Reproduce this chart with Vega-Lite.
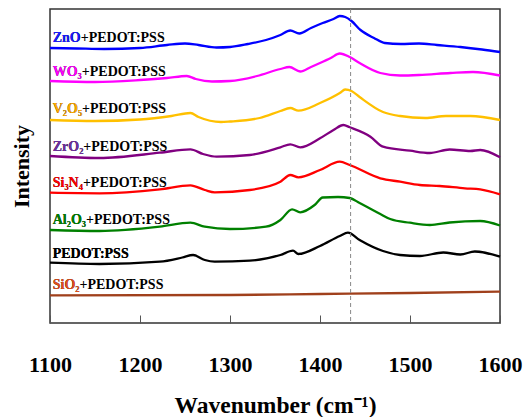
{
  "$schema": "https://vega.github.io/schema/vega-lite/v6.json",
  "width": 450,
  "height": 314,
  "autosize": {"type": "none"},
  "padding": {"left": 50, "top": 9, "right": 31, "bottom": 94},
  "background": "white",
  "config": {"view": {"stroke": "#333333", "strokeWidth": 1.5}, "font": "Liberation Serif", "text": {"font": "Liberation Serif"}},
  "datasets": {
    "spectra": [
      {"s":"ZnO","wn":1100,"v":275},{"s":"ZnO","wn":1130,"v":274.5},{"s":"ZnO","wn":1160,"v":274},{"s":"ZnO","wn":1200,"v":275},{"s":"ZnO","wn":1230,"v":278},{"s":"ZnO","wn":1250,"v":279.5},{"s":"ZnO","wn":1265,"v":278},{"s":"ZnO","wn":1285,"v":275.5},{"s":"ZnO","wn":1300,"v":276},{"s":"ZnO","wn":1320,"v":279},{"s":"ZnO","wn":1340,"v":283},{"s":"ZnO","wn":1356,"v":288},{"s":"ZnO","wn":1367,"v":292.5},{"s":"ZnO","wn":1377,"v":289.5},{"s":"ZnO","wn":1390,"v":295},{"s":"ZnO","wn":1403,"v":300},{"s":"ZnO","wn":1415,"v":304},{"s":"ZnO","wn":1422,"v":307},{"s":"ZnO","wn":1428,"v":306},{"s":"ZnO","wn":1435,"v":302},{"s":"ZnO","wn":1445,"v":293},{"s":"ZnO","wn":1460,"v":285},{"s":"ZnO","wn":1472,"v":280},{"s":"ZnO","wn":1490,"v":279},{"s":"ZnO","wn":1510,"v":279.5},{"s":"ZnO","wn":1530,"v":278},{"s":"ZnO","wn":1556,"v":276},{"s":"ZnO","wn":1580,"v":273.5},{"s":"ZnO","wn":1600,"v":271},
      {"s":"WO3","wn":1100,"v":242},{"s":"WO3","wn":1150,"v":241},{"s":"WO3","wn":1200,"v":243},{"s":"WO3","wn":1230,"v":245},{"s":"WO3","wn":1252,"v":247},{"s":"WO3","wn":1262,"v":244},{"s":"WO3","wn":1280,"v":241.5},{"s":"WO3","wn":1300,"v":242},{"s":"WO3","wn":1330,"v":247},{"s":"WO3","wn":1356,"v":254},{"s":"WO3","wn":1366,"v":256},{"s":"WO3","wn":1378,"v":251.5},{"s":"WO3","wn":1390,"v":256},{"s":"WO3","wn":1400,"v":260},{"s":"WO3","wn":1412,"v":265},{"s":"WO3","wn":1422,"v":269.5},{"s":"WO3","wn":1433,"v":266},{"s":"WO3","wn":1444,"v":260},{"s":"WO3","wn":1467,"v":250},{"s":"WO3","wn":1489,"v":247.5},{"s":"WO3","wn":1510,"v":248},{"s":"WO3","wn":1545,"v":250},{"s":"WO3","wn":1570,"v":251},{"s":"WO3","wn":1600,"v":247.5},
      {"s":"V2O5","wn":1100,"v":203},{"s":"V2O5","wn":1150,"v":202},{"s":"V2O5","wn":1200,"v":203.5},{"s":"V2O5","wn":1235,"v":207},{"s":"V2O5","wn":1256,"v":210},{"s":"V2O5","wn":1265,"v":206},{"s":"V2O5","wn":1290,"v":201},{"s":"V2O5","wn":1300,"v":201.5},{"s":"V2O5","wn":1333,"v":205},{"s":"V2O5","wn":1356,"v":212},{"s":"V2O5","wn":1367,"v":215},{"s":"V2O5","wn":1376,"v":212.3},{"s":"V2O5","wn":1400,"v":220},{"s":"V2O5","wn":1422,"v":230},{"s":"V2O5","wn":1428,"v":233.5},{"s":"V2O5","wn":1435,"v":232},{"s":"V2O5","wn":1444,"v":226},{"s":"V2O5","wn":1470,"v":211},{"s":"V2O5","wn":1489,"v":207},{"s":"V2O5","wn":1517,"v":205},{"s":"V2O5","wn":1540,"v":207},{"s":"V2O5","wn":1567,"v":207},{"s":"V2O5","wn":1600,"v":203},
      {"s":"ZrO2","wn":1100,"v":167},{"s":"ZrO2","wn":1155,"v":165},{"s":"ZrO2","wn":1222,"v":170.3},{"s":"ZrO2","wn":1256,"v":173.7},{"s":"ZrO2","wn":1270,"v":169},{"s":"ZrO2","wn":1285,"v":166.3},{"s":"ZrO2","wn":1322,"v":168},{"s":"ZrO2","wn":1356,"v":175.7},{"s":"ZrO2","wn":1367,"v":178.7},{"s":"ZrO2","wn":1378,"v":175.7},{"s":"ZrO2","wn":1400,"v":184.7},{"s":"ZrO2","wn":1415,"v":193},{"s":"ZrO2","wn":1426,"v":198},{"s":"ZrO2","wn":1433,"v":195.7},{"s":"ZrO2","wn":1456,"v":186.3},{"s":"ZrO2","wn":1470,"v":176.3},{"s":"ZrO2","wn":1500,"v":172.3},{"s":"ZrO2","wn":1522,"v":170},{"s":"ZrO2","wn":1544,"v":173.5},{"s":"ZrO2","wn":1567,"v":172},{"s":"ZrO2","wn":1578,"v":173},{"s":"ZrO2","wn":1600,"v":165.7},
      {"s":"Si3N4","wn":1100,"v":130.3},{"s":"Si3N4","wn":1155,"v":129.7},{"s":"Si3N4","wn":1222,"v":133.7},{"s":"Si3N4","wn":1256,"v":137.7},{"s":"Si3N4","wn":1272,"v":133},{"s":"Si3N4","wn":1283,"v":130.7},{"s":"Si3N4","wn":1322,"v":133},{"s":"Si3N4","wn":1356,"v":141.3},{"s":"Si3N4","wn":1367,"v":148},{"s":"Si3N4","wn":1376,"v":145.7},{"s":"Si3N4","wn":1400,"v":153},{"s":"Si3N4","wn":1422,"v":161.3},{"s":"Si3N4","wn":1433,"v":158},{"s":"Si3N4","wn":1467,"v":144.7},{"s":"Si3N4","wn":1489,"v":141.3},{"s":"Si3N4","wn":1511,"v":138},{"s":"Si3N4","wn":1533,"v":137},{"s":"Si3N4","wn":1561,"v":134.7},{"s":"Si3N4","wn":1578,"v":133.7},{"s":"Si3N4","wn":1600,"v":128.7},
      {"s":"Al2O3","wn":1100,"v":93},{"s":"Al2O3","wn":1155,"v":92},{"s":"Al2O3","wn":1222,"v":96.3},{"s":"Al2O3","wn":1256,"v":100.3},{"s":"Al2O3","wn":1272,"v":96.3},{"s":"Al2O3","wn":1300,"v":94},{"s":"Al2O3","wn":1340,"v":96.3},{"s":"Al2O3","wn":1356,"v":103},{"s":"Al2O3","wn":1369,"v":113.7},{"s":"Al2O3","wn":1378,"v":110.7},{"s":"Al2O3","wn":1394,"v":118},{"s":"Al2O3","wn":1403,"v":125.5},{"s":"Al2O3","wn":1420,"v":126},{"s":"Al2O3","wn":1433,"v":125},{"s":"Al2O3","wn":1444,"v":120},{"s":"Al2O3","wn":1467,"v":109},{"s":"Al2O3","wn":1478,"v":104},{"s":"Al2O3","wn":1500,"v":100.3},{"s":"Al2O3","wn":1522,"v":98},{"s":"Al2O3","wn":1544,"v":100.5},{"s":"Al2O3","wn":1578,"v":102},{"s":"Al2O3","wn":1600,"v":97.5},
      {"s":"PEDOT","wn":1100,"v":60.3},{"s":"PEDOT","wn":1155,"v":59},{"s":"PEDOT","wn":1222,"v":61.3},{"s":"PEDOT","wn":1247,"v":65.5},{"s":"PEDOT","wn":1259,"v":68},{"s":"PEDOT","wn":1272,"v":63},{"s":"PEDOT","wn":1283,"v":61.3},{"s":"PEDOT","wn":1322,"v":62.3},{"s":"PEDOT","wn":1356,"v":68},{"s":"PEDOT","wn":1370,"v":72.3},{"s":"PEDOT","wn":1376,"v":69},{"s":"PEDOT","wn":1400,"v":77},{"s":"PEDOT","wn":1422,"v":87},{"s":"PEDOT","wn":1431,"v":90.3},{"s":"PEDOT","wn":1444,"v":83},{"s":"PEDOT","wn":1470,"v":72},{"s":"PEDOT","wn":1489,"v":68},{"s":"PEDOT","wn":1511,"v":67},{"s":"PEDOT","wn":1537,"v":70.5},{"s":"PEDOT","wn":1556,"v":68.5},{"s":"PEDOT","wn":1572,"v":71.5},{"s":"PEDOT","wn":1600,"v":66.3},
      {"s":"SiO2","wn":1100,"v":27.7},{"s":"SiO2","wn":1300,"v":28},{"s":"SiO2","wn":1400,"v":29},{"s":"SiO2","wn":1500,"v":30},{"s":"SiO2","wn":1600,"v":31.3}
    ],
    "labels": [
      {"lab":"ZnO","full":"ZnO+PEDOT:PSS","prefix":"ZnO","x":1103,"y":281.5},
      {"lab":"WO3","full":"WO₃+PEDOT:PSS","prefix":"WO₃","x":1103,"y":247},
      {"lab":"V2O5","full":"V₂O₅+PEDOT:PSS","prefix":"V₂O₅","x":1103,"y":210.5},
      {"lab":"ZrO2","full":"ZrO₂+PEDOT:PSS","prefix":"ZrO₂","x":1103,"y":172.5},
      {"lab":"Si3N4","full":"Si₃N₄+PEDOT:PSS","prefix":"Si₃N₄","x":1103,"y":136.5},
      {"lab":"Al2O3","full":"Al₂O₃+PEDOT:PSS","prefix":"Al₂O₃","x":1103,"y":99},
      {"lab":"PEDOT","full":"PEDOT:PSS","prefix":"PEDOT:PSS","x":1103,"y":65},
      {"lab":"SiO2","full":"SiO₂+PEDOT:PSS","prefix":"SiO₂","x":1103,"y":33.7}
    ]
  },
  "layer": [
    {
      "data": {"name": "spectra"},
      "mark": {"type": "line", "strokeWidth": 2.3, "interpolate": "monotone"},
      "encoding": {
        "x": {"field": "wn", "type": "quantitative",
          "scale": {"domain": [1100, 1600], "nice": false, "zero": false},
          "axis": {"title": "Wavenumber (cm⁻¹)", "values": [1100,1200,1300,1400,1500,1600], "format": "d",
            "tickSize": -8, "tickColor": "#555555", "tickWidth": 1, "domain": false, "grid": false,
            "labelFont": "Liberation Serif", "labelFontSize": 22, "labelFontWeight": "bold", "labelColor": "black",
            "labelPadding": 39, "labelFlush": false,
            "titleFont": "Liberation Serif", "titleFontSize": 23.5, "titleFontWeight": "bold", "titleColor": "black",
            "titleY": 89, "titleBaseline": "alphabetic"}},
        "y": {"field": "v", "type": "quantitative",
          "scale": {"domain": [0, 314], "nice": false},
          "axis": {"title": "Intensity", "labels": false, "ticks": false, "domain": false, "grid": false,
            "titleFont": "Liberation Serif", "titleFontSize": 22, "titleFontWeight": "bold", "titleColor": "black",
            "titlePadding": 17}},
        "color": {"field": "s", "type": "nominal", "legend": null,
          "scale": {"domain": ["ZnO","WO3","V2O5","ZrO2","Si3N4","Al2O3","PEDOT","SiO2"],
            "range": ["#0000ff","#ff00ff","#ffc000","#800080","#ff0000","#008000","#000000","#a0401c"]}}
      }
    },
    {
      "data": {"values": [{"x": 1434}]},
      "mark": {"type": "rule", "strokeDash": [4, 3], "color": "#888888", "strokeWidth": 1},
      "encoding": {"x": {"field": "x", "type": "quantitative"}}
    },
    {
      "data": {"name": "labels"},
      "mark": {"type": "text", "align": "left", "baseline": "alphabetic", "font": "Times New Roman, Liberation Serif, serif", "fontSize": 14, "fontWeight": "bold", "color": "black"},
      "encoding": {
        "x": {"field": "x", "type": "quantitative"},
        "y": {"field": "y", "type": "quantitative"},
        "text": {"field": "full"}
      }
    },
    {
      "data": {"name": "labels"},
      "mark": {"type": "text", "align": "left", "baseline": "alphabetic", "font": "Times New Roman, Liberation Serif, serif", "fontSize": 14, "fontWeight": "bold"},
      "encoding": {
        "x": {"field": "x", "type": "quantitative"},
        "y": {"field": "y", "type": "quantitative"},
        "text": {"field": "prefix"},
        "color": {"field": "lab", "type": "nominal", "legend": null,
          "scale": {"domain": ["ZnO","WO3","V2O5","ZrO2","Si3N4","Al2O3","PEDOT","SiO2"],
            "range": ["#1a1aff","#ff00ff","#ffaa00","#7030a0","#ff0000","#008000","#000000","#e0501a"]}}
      }
    }
  ],
  "resolve": {"scale": {"color": "independent"}}
}
